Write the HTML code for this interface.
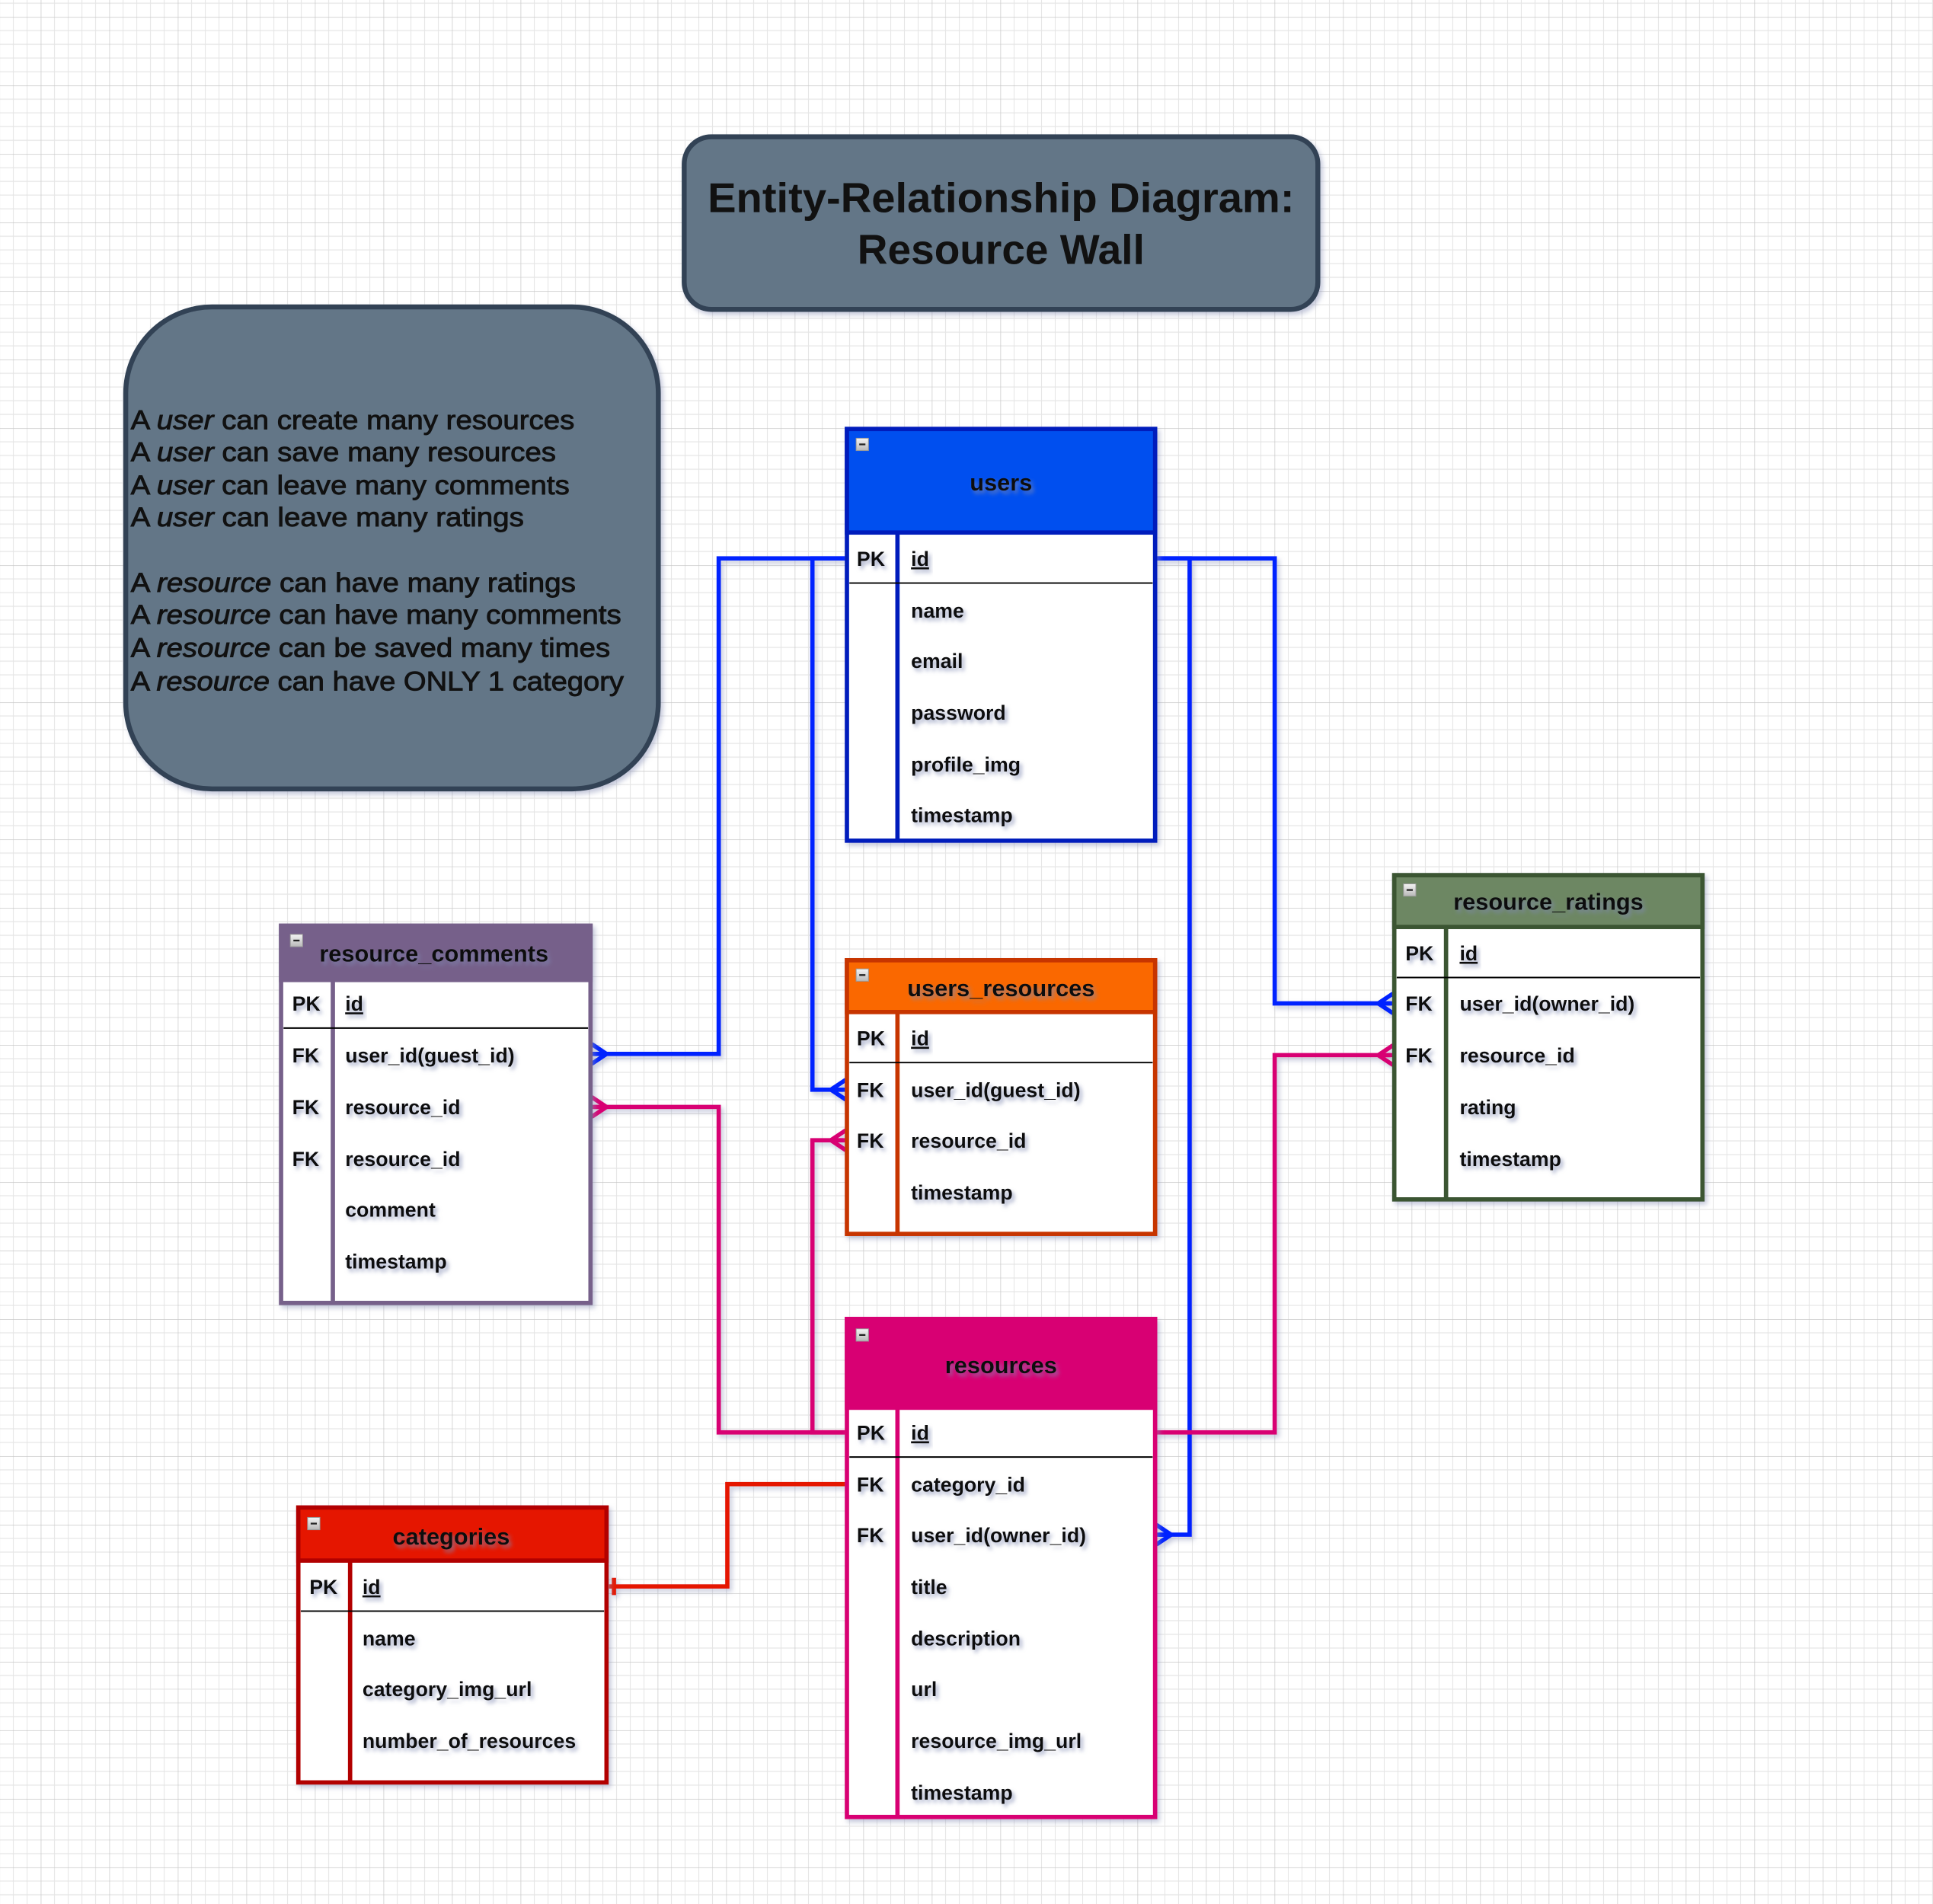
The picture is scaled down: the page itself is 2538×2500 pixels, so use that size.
<!DOCTYPE html>
<html><head><meta charset="utf-8">
<style>
html,body{margin:0;padding:0;background:#fff;}
svg{display:block;}
text{font-family:"Liberation Sans",Arial,sans-serif;}
.h{font-weight:bold;fill:#111;font-size:19px;text-anchor:middle;filter:url(#ts);}
.r{font-weight:bold;fill:#111;font-size:16.5px;filter:url(#ts);}
.n{fill:#111;font-size:22px;stroke:#111;stroke-width:0.55;}
</style></head>
<body>
<svg width="2538" height="2500" viewBox="0 0 1568 1544.6" preserveAspectRatio="none" xmlns="http://www.w3.org/2000/svg">
<defs>
<pattern id="g" x="33.1" y="13.7" width="55.6" height="55.6" patternUnits="userSpaceOnUse">
<path d="M11.12 0V55.6M22.24 0V55.6M33.36 0V55.6M44.48 0V55.6M0 11.12H55.6M0 22.24H55.6M0 33.36H55.6M0 44.48H55.6" stroke="#e6e6e6" stroke-width="0.7" fill="none"/>
<path d="M0 0V55.6M0 0H55.6" stroke="#c9c9c9" stroke-width="0.9" fill="none"/>
</pattern>
<filter id="ts" x="-10%" y="-30%" width="130%" height="180%"><feDropShadow dx="2" dy="2.5" stdDeviation="1.6" flood-color="#7e88b0" flood-opacity="0.7"/></filter>
<filter id="ls" x="-10%" y="-10%" width="130%" height="130%"><feDropShadow dx="2" dy="2.5" stdDeviation="2" flood-color="#8a93b8" flood-opacity="0.5"/></filter>
<linearGradient id="ic" x1="0" y1="0" x2="0" y2="1"><stop offset="0" stop-color="#f4f4f4"/><stop offset="1" stop-color="#b8b8b8"/></linearGradient>
</defs>
<rect width="1568" height="1545" fill="#fff"/>
<rect width="1568" height="1545" fill="url(#g)"/>

<rect x="555" y="111" width="514" height="140" rx="22" fill="#647687" stroke="#314354" stroke-width="4" filter="url(#ls)"/>
<text x="812" y="172" font-size="34" font-weight="bold" fill="#111" text-anchor="middle" textLength="476" lengthAdjust="spacingAndGlyphs">Entity-Relationship Diagram:</text>
<text x="812" y="214" font-size="34" font-weight="bold" fill="#111" text-anchor="middle">Resource Wall</text>

<rect x="102" y="249" width="432" height="391" rx="70" fill="#647687" stroke="#314354" stroke-width="4" filter="url(#ls)"/>
<text class="n" x="106" y="348" textLength="360" lengthAdjust="spacingAndGlyphs">A <tspan font-style="italic">user</tspan> can create many resources</text>
<text class="n" x="106" y="374" textLength="345" lengthAdjust="spacingAndGlyphs">A <tspan font-style="italic">user</tspan> can save many resources</text>
<text class="n" x="106" y="401" textLength="356" lengthAdjust="spacingAndGlyphs">A <tspan font-style="italic">user</tspan> can leave many comments</text>
<text class="n" x="106" y="427" textLength="319" lengthAdjust="spacingAndGlyphs">A <tspan font-style="italic">user</tspan> can leave many ratings</text>
<text class="n" x="106" y="480" textLength="361" lengthAdjust="spacingAndGlyphs">A <tspan font-style="italic">resource</tspan> can have many ratings</text>
<text class="n" x="106" y="506" textLength="398" lengthAdjust="spacingAndGlyphs">A <tspan font-style="italic">resource</tspan> can have many comments</text>
<text class="n" x="106" y="533" textLength="389" lengthAdjust="spacingAndGlyphs">A <tspan font-style="italic">resource</tspan> can be saved many times</text>
<text class="n" x="106" y="560" textLength="400" lengthAdjust="spacingAndGlyphs">A <tspan font-style="italic">resource</tspan> can have ONLY 1 category</text>

<g fill="none" stroke-width="3.5" filter="url(#ls)">
<path d="M687 453H583V855H482" stroke="#0020ff"/>
<path d="M687 453H659V884H684" stroke="#0020ff"/>
<path d="M937 453H965V1245H940" stroke="#0020ff"/>
<path d="M937 453H1034V814H1128" stroke="#0020ff"/>
<path d="M687 1162H583V898H482" stroke="#d80073"/>
<path d="M687 1162H659V925H684" stroke="#d80073"/>
<path d="M937 1162H1034V856H1128" stroke="#d80073"/>
<path d="M687 1204H590V1287H494" stroke="#e51400"/>
<path d="M480 847L492 855L480 863M480 855H492" stroke="#0020ff"/>
<path d="M686 876L674 884L686 892M686 884H674" stroke="#0020ff"/>
<path d="M938 1237L950 1245L938 1253M938 1245H950" stroke="#0020ff"/>
<path d="M1130 806L1118 814L1130 822M1130 814H1118" stroke="#0020ff"/>
<path d="M480 890L492 898L480 906M480 898H492" stroke="#d80073"/>
<path d="M686 917L674 925L686 933M686 925H674" stroke="#d80073"/>
<path d="M1130 848L1118 856L1130 864M1130 856H1118" stroke="#d80073"/>
<path d="M498 1280V1294" stroke="#e51400"/>
</g>

<g filter="url(#ls)">
<rect x="687" y="348" width="250" height="334" fill="#fff" stroke="#001DBC" stroke-width="3.5"/>
<rect x="687" y="348" width="250" height="84" fill="#0050ef" stroke="#001DBC" stroke-width="3.5"/>
<path d="M728 432V682" stroke="#001DBC" stroke-width="3.5"/>
</g>
<path d="M689 473H935" stroke="#000" stroke-width="1.2"/>
<rect x="694.5" y="355.5" width="10" height="10" fill="url(#ic)" stroke="#999" stroke-width="0.6"/><path d="M697 360.5h5" stroke="#222" stroke-width="1.4"/>
<text class="h" x="812" y="398">users</text>
<text class="r" x="695" y="459">PK</text><text class="r" x="739" y="459" text-decoration="underline">id</text>
<text class="r" x="739" y="501">name</text>
<text class="r" x="739" y="542">email</text>
<text class="r" x="739" y="584">password</text>
<text class="r" x="739" y="626">profile_img</text>
<text class="r" x="739" y="667">timestamp</text>

<g filter="url(#ls)">
<rect x="228" y="751" width="251" height="306" fill="#fff" stroke="#76608a" stroke-width="3.5"/>
<rect x="228" y="751" width="251" height="44" fill="#76608a" stroke="#76608a" stroke-width="3.5"/>
<path d="M270 795V1057" stroke="#76608a" stroke-width="3.5"/>
</g>
<path d="M230 834H477" stroke="#000" stroke-width="1.2"/>
<rect x="235.5" y="758" width="10" height="10" fill="url(#ic)" stroke="#999" stroke-width="0.6"/><path d="M238 763h5" stroke="#222" stroke-width="1.4"/>
<text class="h" x="352" y="780">resource_comments</text>
<text class="r" x="237" y="820">PK</text><text class="r" x="280" y="820" text-decoration="underline">id</text>
<text class="r" x="237" y="862">FK</text><text class="r" x="280" y="862">user_id(guest_id)</text>
<text class="r" x="237" y="904">FK</text><text class="r" x="280" y="904">resource_id</text>
<text class="r" x="237" y="946">FK</text><text class="r" x="280" y="946">resource_id</text>
<text class="r" x="280" y="987">comment</text>
<text class="r" x="280" y="1029">timestamp</text>

<g filter="url(#ls)">
<rect x="687" y="779" width="250" height="222" fill="#fff" stroke="#C73500" stroke-width="3.5"/>
<rect x="687" y="779" width="250" height="42" fill="#fa6800" stroke="#C73500" stroke-width="3.5"/>
<path d="M728 821V1001" stroke="#C73500" stroke-width="3.5"/>
</g>
<path d="M689 862H935" stroke="#000" stroke-width="1.2"/>
<rect x="694.5" y="786" width="10" height="10" fill="url(#ic)" stroke="#999" stroke-width="0.6"/><path d="M697 791h5" stroke="#222" stroke-width="1.4"/>
<text class="h" x="812" y="808">users_resources</text>
<text class="r" x="695" y="848">PK</text><text class="r" x="739" y="848" text-decoration="underline">id</text>
<text class="r" x="695" y="890">FK</text><text class="r" x="739" y="890">user_id(guest_id)</text>
<text class="r" x="695" y="931">FK</text><text class="r" x="739" y="931">resource_id</text>
<text class="r" x="739" y="973">timestamp</text>

<g filter="url(#ls)">
<rect x="1131" y="710" width="250" height="263" fill="#fff" stroke="#3A5431" stroke-width="3.5"/>
<rect x="1131" y="710" width="250" height="42" fill="#6d8764" stroke="#3A5431" stroke-width="3.5"/>
<path d="M1173 752V973" stroke="#3A5431" stroke-width="3.5"/>
</g>
<path d="M1133 793H1379" stroke="#000" stroke-width="1.2"/>
<rect x="1138.5" y="717" width="10" height="10" fill="url(#ic)" stroke="#999" stroke-width="0.6"/><path d="M1141 722h5" stroke="#222" stroke-width="1.4"/>
<text class="h" x="1256" y="738">resource_ratings</text>
<text class="r" x="1140" y="779">PK</text><text class="r" x="1184" y="779" text-decoration="underline">id</text>
<text class="r" x="1140" y="820">FK</text><text class="r" x="1184" y="820">user_id(owner_id)</text>
<text class="r" x="1140" y="862">FK</text><text class="r" x="1184" y="862">resource_id</text>
<text class="r" x="1184" y="904">rating</text>
<text class="r" x="1184" y="946">timestamp</text>

<g filter="url(#ls)">
<rect x="687" y="1070" width="250" height="404" fill="#fff" stroke="#d80073" stroke-width="3.5"/>
<rect x="687" y="1070" width="250" height="72" fill="#d80073" stroke="#d80073" stroke-width="3.5"/>
<path d="M728 1142V1474" stroke="#d80073" stroke-width="3.5"/>
</g>
<path d="M689 1182H935" stroke="#000" stroke-width="1.2"/>
<rect x="694.5" y="1078" width="10" height="10" fill="url(#ic)" stroke="#999" stroke-width="0.6"/><path d="M697 1083h5" stroke="#222" stroke-width="1.4"/>
<text class="h" x="812" y="1114">resources</text>
<text class="r" x="695" y="1168">PK</text><text class="r" x="739" y="1168" text-decoration="underline">id</text>
<text class="r" x="695" y="1210">FK</text><text class="r" x="739" y="1210">category_id</text>
<text class="r" x="695" y="1251">FK</text><text class="r" x="739" y="1251">user_id(owner_id)</text>
<text class="r" x="739" y="1293">title</text>
<text class="r" x="739" y="1335">description</text>
<text class="r" x="739" y="1376">url</text>
<text class="r" x="739" y="1418">resource_img_url</text>
<text class="r" x="739" y="1460">timestamp</text>

<g filter="url(#ls)">
<rect x="242" y="1223" width="250" height="223" fill="#fff" stroke="#B20000" stroke-width="3.5"/>
<rect x="242" y="1223" width="250" height="43" fill="#e51400" stroke="#B20000" stroke-width="3.5"/>
<path d="M284 1266V1446" stroke="#B20000" stroke-width="3.5"/>
</g>
<path d="M244 1307H490" stroke="#000" stroke-width="1.2"/>
<rect x="249.5" y="1231" width="10" height="10" fill="url(#ic)" stroke="#999" stroke-width="0.6"/><path d="M252 1236h5" stroke="#222" stroke-width="1.4"/>
<text class="h" x="366" y="1253">categories</text>
<text class="r" x="251" y="1293">PK</text><text class="r" x="294" y="1293" text-decoration="underline">id</text>
<text class="r" x="294" y="1335">name</text>
<text class="r" x="294" y="1376">category_img_url</text>
<text class="r" x="294" y="1418">number_of_resources</text>
</svg>
</body></html>
